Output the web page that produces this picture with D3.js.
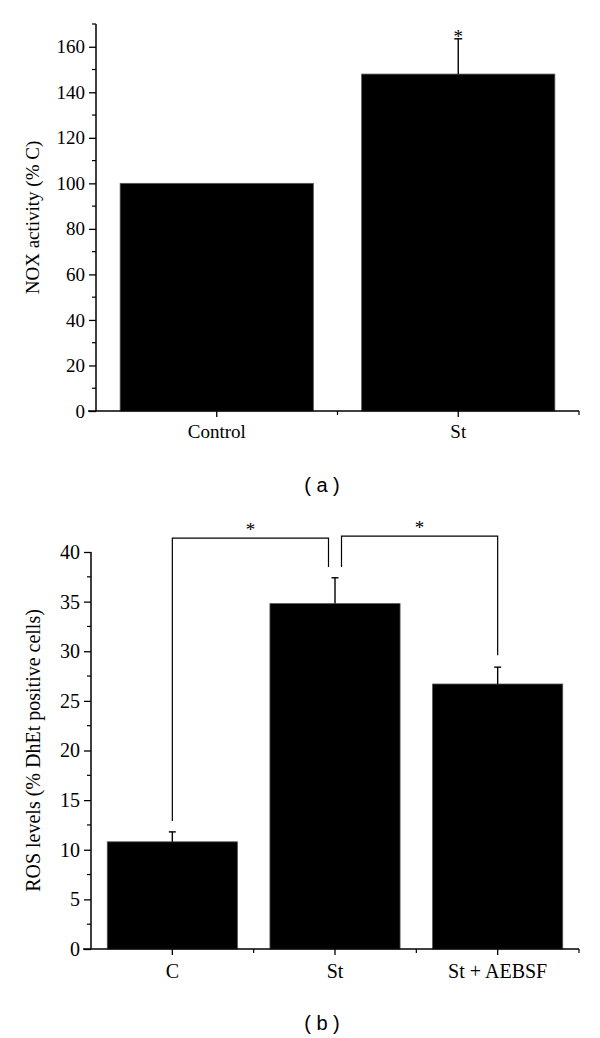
<!DOCTYPE html>
<html>
<head>
<meta charset="utf-8">
<script src="https://cdn.jsdelivr.net/npm/d3@7"></script>
<style>
  html, body { margin: 0; padding: 0; background: #fff; }
  svg { display: block; }
  text { font-family: "Liberation Serif", "DejaVu Serif", "Times New Roman", serif; fill: #000; }
</style>
</head>
<body>
<script>
// ---------- Data ----------
const categoriesA = ["Control", "St"];
const valuesA = [100, 148];
const errorsA = [0, 15.5];
const starsA = [false, true];
const yTicksA = [0, 20, 40, 60, 80, 100, 120, 140, 160];
const yLabelA = "NOX activity (% C)";

const categoriesB = ["C", "St", "St + AEBSF"];
const valuesB = [10.8, 34.8, 26.7];
const errorsB = [1.0, 2.6, 1.7];
const yTicksB = [0, 5, 10, 15, 20, 25, 30, 35, 40];
const yLabelB = "ROS levels (% DhEt positive cells)";
// significance brackets
const bracketFrom = ["C", "St"];
const bracketTo = ["St", "St + AEBSF"];
const bracketTop = [41.4, 41.6];
const bracketFromBottom = [12.9, 38.5];
const bracketToBottom = [38.5, 29.6];

const SERIF = '"Liberation Serif", "DejaVu Serif", "Times New Roman", serif';
const SANS = '"Liberation Sans", Arial, sans-serif';

const W = 600, H = 1038;
const svg = d3.select("body").append("svg").attr("width", W).attr("height", H);

function panel(opts) {
  const { cats, vals, errs, ymax, yTicks, minorStep, x0, x1, yTop, yBot,
          fontSize, labelSize, yLabel, yLabelX, capW, labelDy } = opts;
  const g = svg.append("g");
  const x = d3.scaleBand().domain(cats).range([x0, x1]).paddingInner(0.2).paddingOuter(0.1);
  const step = (x1 - x0) / cats.length;
  const y = d3.scaleLinear().domain([0, ymax]).range([yBot, yTop]);
  const cx = c => x(c) + x.bandwidth() / 2;

  // bars
  g.selectAll("rect.bar").data(cats).join("rect")
    .attr("x", d => x(d)).attr("width", x.bandwidth())
    .attr("y", (d, i) => y(vals[i])).attr("height", (d, i) => yBot - y(vals[i]))
    .attr("fill", "#000").attr("stroke", "#555").attr("stroke-width", 0.8);

  // error bars (upper)
  cats.forEach((c, i) => {
    if (!errs[i]) return;
    const yt = y(vals[i] + errs[i]);
    g.append("line").attr("x1", cx(c)).attr("x2", cx(c)).attr("y1", y(vals[i])).attr("y2", yt)
      .attr("stroke", "#000").attr("stroke-width", 1.4);
    g.append("line").attr("x1", cx(c) - capW / 2).attr("x2", cx(c) + capW / 2).attr("y1", yt).attr("y2", yt)
      .attr("stroke", "#000").attr("stroke-width", 1.4);
  });

  // y axis major
  const yAxis = d3.axisLeft(y).tickValues(yTicks).tickSize(7).tickPadding(4).tickFormat(d3.format("d"));
  const ya = g.append("g").attr("transform", `translate(${x0},0)`).call(yAxis)
    .attr("font-family", null).attr("font-size", null);
  ya.select(".domain").attr("stroke-width", 1.5).attr("d", `M-0,${yTop}V${yBot}`);
  ya.selectAll(".tick line").attr("stroke-width", 1.3);
  ya.selectAll(".tick text").style("font-family", SERIF).style("font-size", fontSize + "px");
  // y minor
  const minor = d3.range(0, ymax + 1e-9, minorStep).filter(v => !yTicks.some(t => Math.abs(t - v) < 1e-9));
  g.append("g").selectAll("line").data(minor).join("line")
    .attr("x1", x0 - 4).attr("x2", x0).attr("y1", d => y(d)).attr("y2", d => y(d))
    .attr("stroke", "#000").attr("stroke-width", 1.2);

  // x axis
  const xAxis = d3.axisBottom(x).tickSize(6).tickPadding(labelDy);
  const xa = g.append("g").attr("transform", `translate(0,${yBot})`).call(xAxis)
    .attr("font-family", null).attr("font-size", null);
  xa.select(".domain").attr("stroke-width", 1.5).attr("d", `M${x0 - 8},0H${x1}`);
  xa.selectAll(".tick line").attr("stroke-width", 1.3);
  xa.selectAll(".tick text").style("font-family", SERIF).style("font-size", fontSize + "px");
  // x minor ticks at band boundaries
  const bounds = d3.range(1, cats.length + 1).map(i => x0 + i * step);
  g.append("g").selectAll("line").data(bounds).join("line")
    .attr("x1", d => d).attr("x2", d => d).attr("y1", yBot).attr("y2", yBot + 4)
    .attr("stroke", "#000").attr("stroke-width", 1.2);

  // y label
  g.append("text").attr("transform", `translate(${yLabelX},${(yTop + yBot) / 2}) rotate(-90)`)
    .attr("text-anchor", "middle").attr("dominant-baseline", "central")
    .style("font-family", SERIF).style("font-size", labelSize + "px").text(yLabel);

  return { x, y, cx, g };
}

// ---------- Panel (a) ----------
const A = panel({
  cats: categoriesA, vals: valuesA, errs: errorsA, ymax: 170, yTicks: yTicksA, minorStep: 10,
  x0: 96, x1: 579, yTop: 24, yBot: 411, fontSize: 19, labelSize: 19, yLabel: yLabelA, yLabelX: 32, capW: 8, labelDy: 8
});
categoriesA.forEach((c, i) => {
  if (!starsA[i]) return;
  A.g.append("text").attr("x", A.cx(c)).attr("y", A.y(valuesA[i] + errorsA[i]) + 4)
    .attr("text-anchor", "middle").style("font-family", SERIF).style("font-size", "19px").text("*");
});
svg.append("text").attr("x", 322).attr("y", 485).attr("text-anchor", "middle")
  .attr("dominant-baseline", "central")
  .style("font-family", SANS).style("font-size", "20px").text("( a )");

// ---------- Panel (b) ----------
const B = panel({
  cats: categoriesB, vals: valuesB, errs: errorsB, ymax: 40, yTicks: yTicksB, minorStep: 2.5,
  x0: 91, x1: 579, yTop: 552, yBot: 949, fontSize: 20, labelSize: 20, yLabel: yLabelB, yLabelX: 33, capW: 7, labelDy: 9
});
const legOff = 6.5;
bracketFrom.forEach((f, i) => {
  const t = bracketTo[i];
  const xf = B.cx(f) + (f === "St" ? legOff : 0);
  const xt = B.cx(t) - (t === "St" ? legOff : 0);
  const yt = B.y(bracketTop[i]);
  B.g.append("path")
    .attr("d", `M${xf},${B.y(bracketFromBottom[i])}V${yt}H${xt}V${B.y(bracketToBottom[i])}`)
    .attr("fill", "none").attr("stroke", "#000").attr("stroke-width", 1.2);
  B.g.append("text").attr("x", (xf + xt) / 2).attr("y", yt - 2)
    .attr("text-anchor", "middle").style("font-family", SERIF).style("font-size", "19px").text("*");
});
svg.append("text").attr("x", 322).attr("y", 1023).attr("text-anchor", "middle")
  .attr("dominant-baseline", "central")
  .style("font-family", SANS).style("font-size", "20px").text("( b )");
</script>
</body>
</html>
